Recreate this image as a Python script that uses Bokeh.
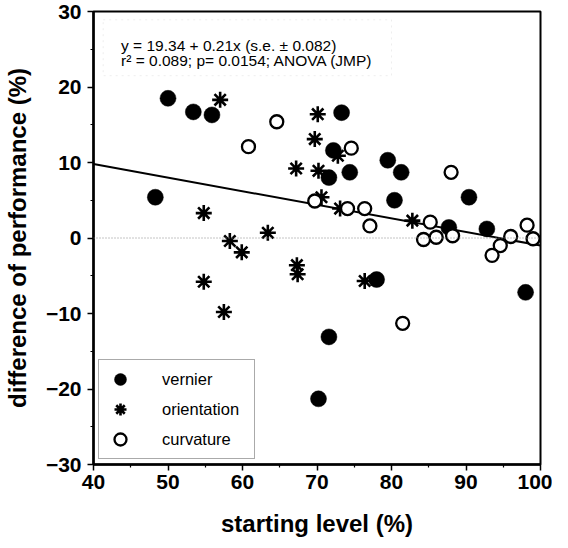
from bokeh.plotting import figure
from bokeh.models import Range1d, Legend, LegendItem, Span, Label, BoxAnnotation, FixedTicker
from bokeh.embed import file_html
from bokeh.resources import INLINE

# --- data ---
vernier_x = [48.3, 50.0, 53.4, 55.9, 73.3, 72.2, 74.4, 71.6, 79.5, 81.3, 80.4, 90.4, 87.7, 92.8, 98.0, 78.0, 71.6, 70.2]
vernier_y = [5.4, 18.5, 16.7, 16.3, 16.6, 11.6, 8.7, 8.0, 10.3, 8.7, 5.0, 5.4, 1.4, 1.2, -7.2, -5.5, -13.1, -21.3]

orient_x = [57.0, 70.1, 69.7, 72.8, 67.2, 70.2, 70.6, 73.1, 82.8, 54.8, 58.3, 59.9, 63.4, 67.3, 67.4, 54.8, 57.5, 76.4]
orient_y = [18.3, 16.4, 13.1, 10.9, 9.2, 8.9, 5.4, 3.9, 2.3, 3.3, -0.4, -1.9, 0.7, -3.6, -4.8, -5.8, -9.8, -5.7]

curv_x = [64.6, 60.8, 74.6, 88.0, 69.7, 74.1, 76.4, 77.1, 85.2, 88.2, 84.3, 86.0, 96.0, 94.6, 93.5, 98.2, 99.0, 81.5]
curv_y = [15.4, 12.1, 11.9, 8.7, 4.9, 3.9, 3.9, 1.6, 2.1, 0.3, -0.2, 0.1, 0.2, -1.0, -2.3, 1.7, -0.1, -11.3]

reg_x = [40, 100]
reg_y = [9.8, -1.0]

x_ticks = [40, 50, 60, 70, 80, 90, 100]
x_minor = [45, 55, 65, 75, 85, 95]
y_ticks = [-30, -20, -10, 0, 10, 20, 30]
y_minor = [-25, -15, -5, 5, 15, 25]

series_names = ["vernier", "orientation", "curvature"]
stats_lines = ["y = 19.34 + 0.21x (s.e. \u00b1 0.082)",
               "r\u00b2 = 0.089; p= 0.0154;  ANOVA (JMP)"]

FONT = "Liberation Sans"

p = figure(width=552, height=540, x_range=Range1d(40, 100), y_range=Range1d(-30, 30),
           output_backend="svg", toolbar_location=None,
           min_border_left=89, min_border_right=12, min_border_top=11, min_border_bottom=76)
p.xgrid.visible = False
p.ygrid.visible = False
p.outline_line_color = "black"
p.outline_line_width = 2
p.background_fill_color = "white"
p.border_fill_color = "white"

p.xaxis.ticker = FixedTicker(ticks=x_ticks, minor_ticks=x_minor)
p.yaxis.ticker = FixedTicker(ticks=y_ticks, minor_ticks=y_minor)
for ax in (p.xaxis[0], p.yaxis[0]):
    ax.axis_line_width = 2.5
    ax.axis_line_color = "black"
    ax.major_tick_in = 0
    ax.major_tick_out = 6
    ax.minor_tick_in = 0
    ax.minor_tick_out = 3
    ax.major_tick_line_width = 1.5
    ax.minor_tick_line_width = 1.2
    ax.major_label_text_font = FONT
    ax.major_label_text_font_style = "bold"
    ax.major_label_text_font_size = "21px"
    ax.major_label_text_color = "black"
    ax.axis_label_text_font = FONT
    ax.axis_label_text_font_style = "bold"
    ax.axis_label_text_font_size = "24px"
    ax.axis_label_text_color = "black"
p.xaxis.major_label_standoff = 4
p.yaxis.major_label_standoff = 6
p.xaxis.axis_label = "starting level (%)"
p.yaxis.axis_label = "difference of performance (%)"
p.xaxis.axis_label_standoff = 18
p.yaxis.axis_label_standoff = 12

# zero line
p.add_layout(Span(location=0, dimension="width", line_color="#888888", line_dash="1 2", line_width=1))

# stats box
p.add_layout(BoxAnnotation(left=41.3, right=80, top=28.9, bottom=21.5, fill_alpha=0,
                           line_color="#c8c8c8", line_dash="2 4", line_width=1))
for i, line in enumerate(stats_lines):
    p.add_layout(Label(x=43.7, y=25.45 - 2.0 * i, text=line, text_font=FONT, text_font_size="15.5px",
                       text_baseline="alphabetic", text_align="left", text_color="black"))

# regression line
p.line(reg_x, reg_y, line_color="black", line_width=2)

r_v = p.scatter(vernier_x, vernier_y, marker="circle", size=16, fill_color="black", line_color="black", line_width=0.5)
r_o = p.scatter(orient_x, orient_y, marker="asterisk", size=16, line_color="black", line_width=2.6)
r_c = p.scatter(curv_x, curv_y, marker="circle", size=13, fill_color="white", line_color="black", line_width=2.3)

legend = Legend(items=[LegendItem(label=series_names[0], renderers=[r_v]),
                       LegendItem(label=series_names[1], renderers=[r_o]),
                       LegendItem(label=series_names[2], renderers=[r_c])],
                location="bottom_left", margin=5, padding=4, spacing=0,
                glyph_height=30, glyph_width=34, label_standoff=25, label_width=88,
                label_text_font=FONT, label_text_font_size="16.5px", label_text_color="black",
                border_line_color="#555555", border_line_width=1,
                background_fill_color="white", background_fill_alpha=1)
p.add_layout(legend)

open("out.html", "w").write(file_html(p, INLINE))
